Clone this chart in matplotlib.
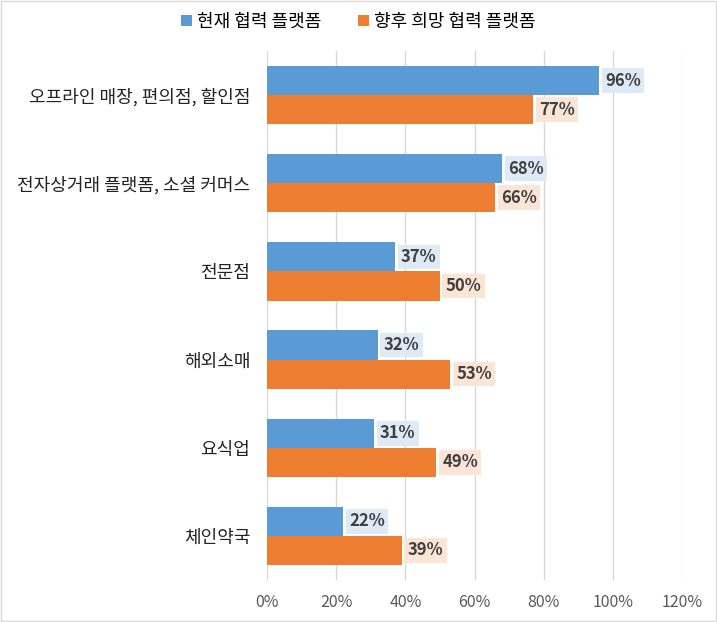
import matplotlib
matplotlib.use("Agg")
import matplotlib.pyplot as plt
import numpy as np
from matplotlib.ticker import FuncFormatter

plt.rcParams['font.family'] = ['Noto Sans CJK KR', 'DejaVu Sans']

categories = ["오프라인 매장, 편의점, 할인점", "전자상거래 플랫폼, 소셜 커머스",
              "전문점", "해외소매", "요식업", "체인약국"]
current = [96, 68, 37, 32, 31, 22]
future = [77, 66, 50, 53, 49, 39]
series_names = ["현재 협력 플랫폼", "향후 희망 협력 플랫폼"]

blue = "#5B9BD5"
orange = "#ED7D31"

fig = plt.figure(figsize=(7.17, 6.22), dpi=100)
ax = fig.add_axes([0.3724, 0.0675, 0.5788, 0.8505])

y = np.arange(len(categories))
h = 0.33
b1 = ax.barh(y - h / 2, [v / 100 for v in current], height=h, color=blue, label=series_names[0])
b2 = ax.barh(y + h / 2, [v / 100 for v in future], height=h, color=orange, label=series_names[1])

for bars, vals, bg in [(b1, current, "#DEEBF7"), (b2, future, "#FBE5D6")]:
    for rect, v in zip(bars, vals):
        ax.text(rect.get_width() + 0.017, rect.get_y() + rect.get_height() / 2, f"{v}%",
                ha="left", va="center", fontsize=12, fontweight="bold", color="#404040",
                bbox=dict(boxstyle="square,pad=0.2", fc=bg, ec="none"))

ax.set_xlim(0, 1.2)
ax.set_xticks(np.arange(0, 1.21, 0.2))
ax.xaxis.set_major_formatter(FuncFormatter(lambda x, p: f"{x * 100:.0f}%"))
ax.set_ylim(len(categories) - 0.5, -0.5)
ax.set_yticks(y)
ax.set_yticklabels(categories)
ax.tick_params(axis="y", length=0, labelsize=13, colors="#222222", pad=12)
ax.tick_params(axis="x", length=0, labelsize=11.5, colors="#595959", pad=10)
ax.grid(axis="x", color="#D9D9D9", linewidth=1)
ax.set_axisbelow(True)
for s in ax.spines.values():
    s.set_visible(False)

fig.legend(handles=[b1, b2], labels=series_names, loc="center", bbox_to_anchor=(0.5, 0.965),
           ncol=2, frameon=False, fontsize=13, handlelength=0.6, handleheight=0.6,
           handletextpad=0.3, columnspacing=2.0)

fig.patches.append(plt.Rectangle((0.001, 0.001), 0.998, 0.998, transform=fig.transFigure,
                                 fill=False, edgecolor="#D9D9D9", linewidth=1))

fig.savefig("out.png", dpi=100)
